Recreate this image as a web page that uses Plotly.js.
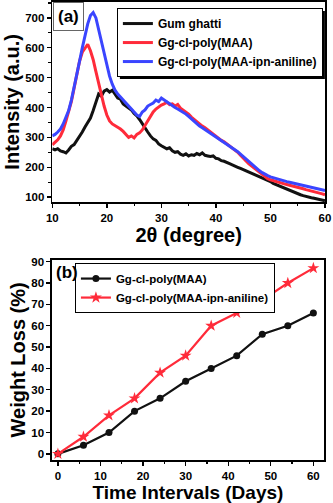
<!DOCTYPE html>
<html><head><meta charset="utf-8">
<script src="https://cdn.plot.ly/plotly-3.0.1.min.js"></script>
<style>html,body{margin:0;padding:0;background:#fff;}#chart{width:333px;height:503px;}</style>
</head><body><div id="chart"></div>
<script>
// Panel (a): XRD, 2theta from 10 to 60 step 0.5
const twoTheta = [];
for (let i = 0; i <= 100; i++) twoTheta.push(10 + i * 0.5);
const gumGhatti = [262,258,262,255,252,248,258,270,276,290,302,318,335,350,365,390,420,445,438,455,
  460,452,458,445,432,428,412,405,398,392,380,372,360,345,330,318,305,295,290,278,
  272,268,262,265,255,250,252,244,240,245,238,242,240,246,242,248,240,238,236,238,
  230,228,222,220,215,212,208,205,200,196,192,188,185,180,176,172,168,164,160,156,
  152,146,142,138,135,130,126,122,118,114,112,108,105,102,100,98,96,94,92,90,88];
const ggMAA = [275,282,292,305,325,355,385,420,465,510,555,585,600,612,590,560,520,480,440,405,
  375,355,345,340,335,328,320,308,300,305,298,310,315,325,340,355,370,385,395,402,
  408,412,418,410,412,405,410,398,392,385,378,368,360,352,345,338,332,325,315,308,
  302,295,290,285,278,270,265,258,250,240,230,220,212,205,198,190,182,175,168,162,
  158,155,152,150,148,145,142,140,138,135,132,130,128,125,123,120,118,116,114,111,108];
const ggIPN = [305,310,318,328,345,365,390,425,465,510,555,600,640,680,708,718,700,660,615,575,
  540,505,478,458,445,435,425,415,402,392,385,375,370,385,392,405,410,415,425,420,
  432,425,420,412,405,400,395,390,385,378,370,362,352,345,338,332,326,320,312,306,
  300,294,288,282,278,272,266,258,252,244,236,226,218,210,202,195,188,182,176,172,
  168,165,162,160,158,155,152,150,148,145,142,140,138,136,134,132,130,128,126,124,122];

// Panel (b): weight loss
const days = [0,6,12,18,24,30,36,42,48,54,60];
const lossMAA = [0,4,10,20,26,34,40,46,56,60,66];
const lossIPN = [0,8,18,26,38,46,60,66,72,80,87];

const namesA = ['Gum ghatti','Gg-cl-poly(MAA)','Gg-cl-poly(MAA-ipn-aniline)'];
const namesB = ['Gg-cl-poly(MAA)','Gg-cl-poly(MAA-ipn-aniline)'];

const BLACK = '#111111', RED = '#ff2b3a', BLUE = '#3a45ff';
const F = 'Liberation Sans, Arial, sans-serif';

const traces = [
  {x: twoTheta, y: gumGhatti, name: namesA[0], mode: 'lines', line: {color: BLACK, width: 3}, xaxis: 'x', yaxis: 'y', legend: 'legend'},
  {x: twoTheta, y: ggMAA, name: namesA[1], mode: 'lines', line: {color: RED, width: 3}, xaxis: 'x', yaxis: 'y', legend: 'legend'},
  {x: twoTheta, y: ggIPN, name: namesA[2], mode: 'lines', line: {color: BLUE, width: 3}, xaxis: 'x', yaxis: 'y', legend: 'legend'},
  {x: days, y: lossMAA, name: namesB[0], mode: 'lines+markers', line: {color: BLACK, width: 2.2}, marker: {symbol: 'circle', size: 7, color: BLACK}, xaxis: 'x2', yaxis: 'y2', legend: 'legend2'},
  {x: days, y: lossIPN, name: namesB[1], mode: 'lines+markers', line: {color: RED, width: 2.2}, marker: {symbol: 'star', size: 9, color: RED}, xaxis: 'x2', yaxis: 'y2', legend: 'legend2'}
];

const axBase = {
  showline: true, mirror: true, linecolor: '#000', linewidth: 1.6,
  ticks: 'outside', ticklen: 4, tickwidth: 1.4, tickcolor: '#000',
  showgrid: false, zeroline: false,
  tickfont: {family: F, size: 11.5, color: '#000', weight: 'bold'},
  minor: {ticks: 'outside', ticklen: 2.5, tickwidth: 1.2, tickcolor: '#000', nticks: 2}
};
const titleFont = {family: F, size: 20, color: '#000', weight: 'bold'};
const titleFontX2 = {family: F, size: 19, color: '#000', weight: 'bold'};

const layout = {
  width: 333, height: 503,
  margin: {l: 0, r: 0, t: 0, b: 0},
  paper_bgcolor: '#fff', plot_bgcolor: '#fff',
  showlegend: true,
  xaxis: Object.assign({}, axBase, {domain: [0.157, 0.976], range: [10, 60], dtick: 10, tick0: 10, anchor: 'y',
    title: {text: '2θ (degree)', font: titleFont, standoff: 2}}),
  yaxis: Object.assign({}, axBase, {domain: [0.598, 0.997], range: [83, 755], dtick: 100, tick0: 0, anchor: 'x',
    title: {text: 'Intensity (a.u.)', font: titleFont, standoff: 0}}),
  xaxis2: Object.assign({}, axBase, {domain: [0.156, 0.973], range: [-1.4, 62.5], dtick: 10, tick0: 0, anchor: 'y2',
    title: {text: 'Time Intervals (Days)', font: titleFontX2, standoff: 3}}),
  yaxis2: Object.assign({}, axBase, {domain: [0.085, 0.484], range: [-3, 91], dtick: 10, tick0: 0, anchor: 'x2',
    minor: {ticks: ''},
    title: {text: 'Weight Loss (%)', font: titleFont, standoff: 0}}),
  legend: {x: 0.351, y: 0.984, xanchor: 'left', yanchor: 'top', bgcolor: '#fff', bordercolor: '#000', borderwidth: 1,
    font: {family: F, size: 12, color: '#000', weight: 'bold'}, itemwidth: 30, tracegroupgap: 0,
    traceorder: 'normal'},
  legend2: {x: 0.225, y: 0.477, xanchor: 'left', yanchor: 'top', bgcolor: '#fff', bordercolor: '#000', borderwidth: 1,
    font: {family: F, size: 11.5, color: '#000', weight: 'bold'}, itemwidth: 30, tracegroupgap: 0,
    traceorder: 'normal'},
  annotations: [
    {text: '(a)', xref: 'paper', yref: 'paper', x: 0.159, y: 0.996, xanchor: 'left', yanchor: 'top', showarrow: false,
      font: {family: F, size: 17, color: '#000', weight: 'bold'}, bordercolor: '#666', borderwidth: 1, borderpad: 4, bgcolor: '#fff'},
    {text: '(b)', xref: 'paper', yref: 'paper', x: 0.161, y: 0.482, xanchor: 'left', yanchor: 'top', showarrow: false,
      font: {family: F, size: 17, color: '#000', weight: 'bold'}}
  ]
};

const gd = document.getElementById('chart');
Plotly.newPlot(gd, traces, layout, {displayModeBar: false, staticPlot: true}).then(function () {
  const W = 333, H = 503;
  const shapes = [];
  gd.querySelectorAll('g.legend rect.bg').forEach(function (r) {
    const b = r.getBoundingClientRect();
    const g = gd.getBoundingClientRect();
    const l = b.left - g.left + 2.5, t = b.top - g.top + 2.5, rr = b.right - g.left + 2.5, bb = b.bottom - g.top + 2.5;
    shapes.push({type: 'rect', xref: 'paper', yref: 'paper', layer: 'above',
      x0: l / W, x1: rr / W, y0: 1 - bb / H, y1: 1 - t / H,
      fillcolor: '#000', line: {width: 0}});
  });
  return Plotly.relayout(gd, {shapes: shapes});
});
</script></body></html>
